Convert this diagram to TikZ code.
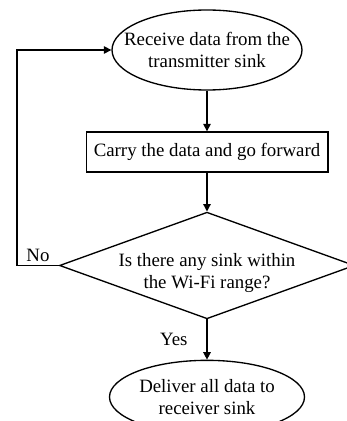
\documentclass[tikz,border=0pt]{standalone}
\usepackage{fontspec}
\setmainfont{Liberation Serif}
\usetikzlibrary{shapes.geometric,arrows.meta}

\begin{document}
\begin{tikzpicture}[x=0.6pt,y=0.6pt,font=\fontsize{11.3}{13.2}\selectfont,
		term/.style={draw,ellipse,align=center,inner sep=0pt,line width=0.8pt},
		proc/.style={draw,rectangle,align=center,inner sep=0pt,line width=0.8pt,
			minimum width=145pt,minimum height=24pt},
		query/.style={draw,diamond,inner sep=0pt,line width=0.8pt,
			aspect=2.77,minimum width=177pt,minimum height=64pt},
		flow/.style={line width=0.8pt,-{Triangle[length=4.5pt,width=4.5pt]}}]
		% Page Frame
		\useasboundingbox (0,0) rectangle (347,421);

		% Flow Steps
		\node[term,inner xsep=-10pt,minimum width=114pt,minimum height=48pt] (recv) at (207,371) {Receive data from the\\transmitter sink};
		\node[proc] (carry) at (207,269) {Carry the data and go forward};
		\node[query] (range) at (207,155.5) {};
		\node[align=center,inner sep=0pt] (rangetext) at ([yshift=-4.5pt]range.center) {Is there any sink within\\the Wi-Fi range?};
		\node[term,minimum width=117pt,minimum height=44pt] (deliver) at (207,24) {Deliver all data to\\receiver sink};

		% Connectors
		\draw[flow] (recv) -- (carry);
		\draw[flow] (carry) -- (range);
		\draw[flow] (range) -- node[left=8pt] {Yes} (deliver);

		% -- loop back
		\coordinate (back) at (17,0);
		\draw[flow] (range.west) -- node[above,inner sep=2pt] {No} (range.west -| back) |- (recv.west);
	\end{tikzpicture}
\end{document}
